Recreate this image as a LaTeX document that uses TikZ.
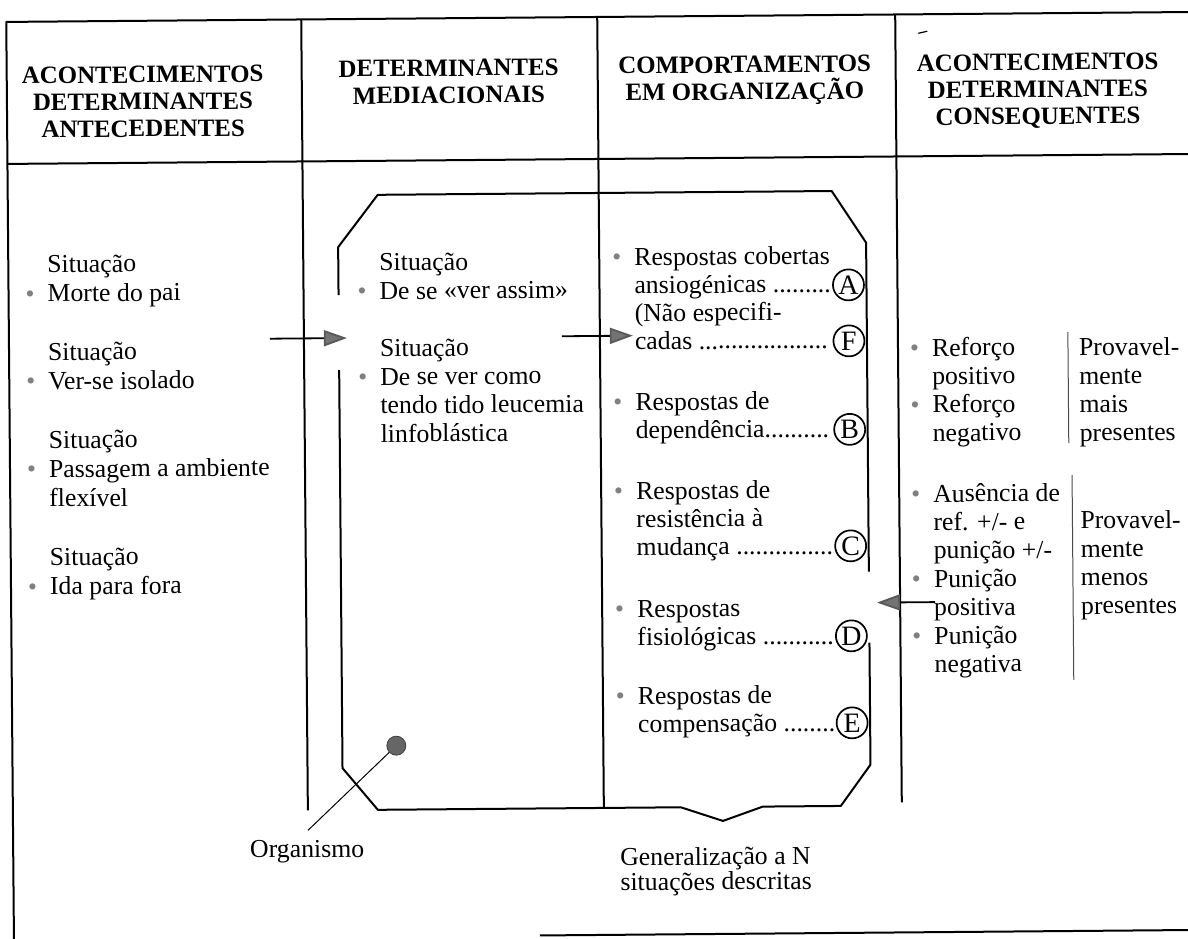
\documentclass[tikz,border=0pt]{standalone}
\usepackage{fontspec}
\setmainfont{Liberation Serif}
\usetikzlibrary{arrows.meta}
\newcommand\bul{\makebox[0pt][r]{\textcolor{black!50}{\textbullet}\hspace{6.5pt}}}
\newcommand\fsz[1]{\fontsize{12.9pt}{#1pt}\selectfont}
\newcommand\hfs{\fontsize{12.45pt}{13.5pt}\selectfont\bfseries}
\newcommand\Lines[1]{\vtop{\lineskiplimit=-50pt\lineskip=0pt\halign{##\hfil\cr#1\crcr}}}
\newcommand\CLines[1]{\vtop{\lineskiplimit=-50pt\lineskip=0pt\halign{\hfil##\hfil\cr#1\crcr}}}
\begin{document}
\begin{tikzpicture}[x=0.5pt,y=-0.5pt,
  frame/.style={line width=1pt, line join=round},
  thinline/.style={line width=0.5pt, black!70},
  txt/.style={anchor=base west, inner sep=0pt, outer sep=0pt},
  htxt/.style={anchor=base, inner sep=0pt, outer sep=0pt},
  circ/.style={circle, draw, line width=0.85pt, minimum size=15.5pt, inner sep=0pt, font=\fontsize{14pt}{14pt}\selectfont},
  dotn/.style={circle, fill=black!60, draw=black!75, line width=0.4pt, minimum size=9.5pt, inner sep=0pt},
  arr/.style={line width=0.9pt, -{Triangle[length=11.5pt,width=8pt,color=black!65,fill=black!55]}},
]
\fill[white] (0,0) rectangle (1188,938);
\useasboundingbox (0,0) rectangle (1188,938);
\begin{scope}[rotate around={0.48:(594,469)}, transform shape]
% frame
\draw[frame] (10,944) -- (10,17) -- (1198,17);
\draw[frame] (10,159) -- (1198,159);
\draw[frame] (305,17) -- (305,808);
\draw[frame] (601,17) -- (601,807);
\draw[frame] (899,17) -- (899,805);
\draw[frame] (536,935) -- (1198,935);
\draw[line width=0.6pt] (922,36) -- (931,34);
% headers
\node[htxt] (h1) at (146,79) {\hfs\CLines{ACONTECIMENTOS\cr DETERMINANTES\cr ANTECEDENTES}};
\node[htxt] (h2) at (452,75) {\hfs\CLines{DETERMINANTES\cr MEDIACIONAIS}};
\node[htxt] (h3) at (748,74) {\hfs\CLines{COMPORTAMENTOS\cr EM ORGANIZAÇÃO}};
\node[htxt] (h4) at (1041,74) {\hfs\CLines{ACONTECIMENTOS\cr DETERMINANTES\cr CONSEQUENTES}};
% organism box
\draw[frame] (340,293) -- (340,245) -- (380,193) -- (834,193) -- (868,245) -- (868,574);
\draw[frame] (340,368) -- (340,766) -- (375,808) -- (678,808) -- (720,822) -- (760,808) -- (838,808) -- (868,767) -- (868,645);
% column 1
\node[txt] (c1) at (49,268) {\fsz{14.65}\Lines{Situação\cr\bul Morte do pai\cr\cr Situação\cr\bul Ver-se isolado\cr\cr Situação\cr\bul Passagem a ambiente\cr flexível\cr\cr Situação\cr\bul Ida para fora}};
% column 2
\node[txt] (c2) at (381,269) {\fsz{14.3}\Lines{Situação\cr\bul De se «ver assim»\cr\cr Situação\cr\bul De se ver como\cr tendo tido leucemia\cr linfoblástica}};
% column 3
\node[txt] (r1) at (636,266) {\fsz{14}\Lines{\bul Respostas cobertas\cr ansiogénicas .........\cr (Não especifi-\cr cadas ....................}};
\node[txt] (r2) at (636,411) {\fsz{14}\Lines{\bul Respostas de\cr dependência..........}};
\node[txt] (r3) at (636,500) {\fsz{14}\Lines{\bul Respostas de\cr resistência à\cr mudança ...............}};
\node[txt] (r4) at (636,618) {\fsz{14}\Lines{\bul Respostas\cr fisiológicas ...........}};
\node[txt] (r5) at (636,705) {\fsz{14}\Lines{\bul Respostas de\cr compensação ........}};
\node[circ] (cA) at (850,287) {A};
\node[circ] (cF) at (850,343) {F};
\node[circ] (cB) at (850,431.5) {B};
\node[circ] (cC) at (850,548) {C};
\node[circ] (cD) at (850,638) {D};
\node[circ] (cE) at (850,725) {E};
% column 4
\node[txt] (k1) at (933,359) {\fsz{14.2}\Lines{\bul Reforço\cr positivo\cr\bul Reforço\cr negativo}};
\node[txt] (k2) at (933,505) {\fsz{14.2}\Lines{\bul Ausência de\cr ref. +/- e\cr punição +/-\cr\bul Punição\cr positiva\cr\bul Punição\cr negativa}};
\node[txt] (p1) at (1080,360) {\fsz{14.2}\Lines{Provavel-\cr mente\cr mais\cr presentes}};
\node[txt] (p2) at (1080,533) {\fsz{14.2}\Lines{Provavel-\cr mente\cr menos\cr presentes}};
\draw[thinline] (1069,336) -- (1069,447);
\draw[thinline] (1072,479) -- (1072,684);
% arrows
\coordinate (a1s) at (271,336); \coordinate (a1e) at (348,336);
\coordinate (a2s) at (563,336); \coordinate (a2e) at (634,336);
\coordinate (a3s) at (934,605); \coordinate (a3e) at (876,605);
\draw[arr] (a1s) -- (a1e);
\draw[arr] (a2s) -- (a2e);
\draw[arr] (a3s) -- (a3e);
% organism
\node[dotn] (org) at (394,744) {};
\node[htxt] (orgl) at (304,855) {\fsz{14}Organismo};
\coordinate (orgend) at (305,828);
\draw[line width=0.5pt] (org) -- (orgend);
% generalization
\node[txt] (gen) at (617,866) {\fsz{12.5}\Lines{Generalização a N\cr situações descritas}};
\end{scope}
\end{tikzpicture}
\end{document}
